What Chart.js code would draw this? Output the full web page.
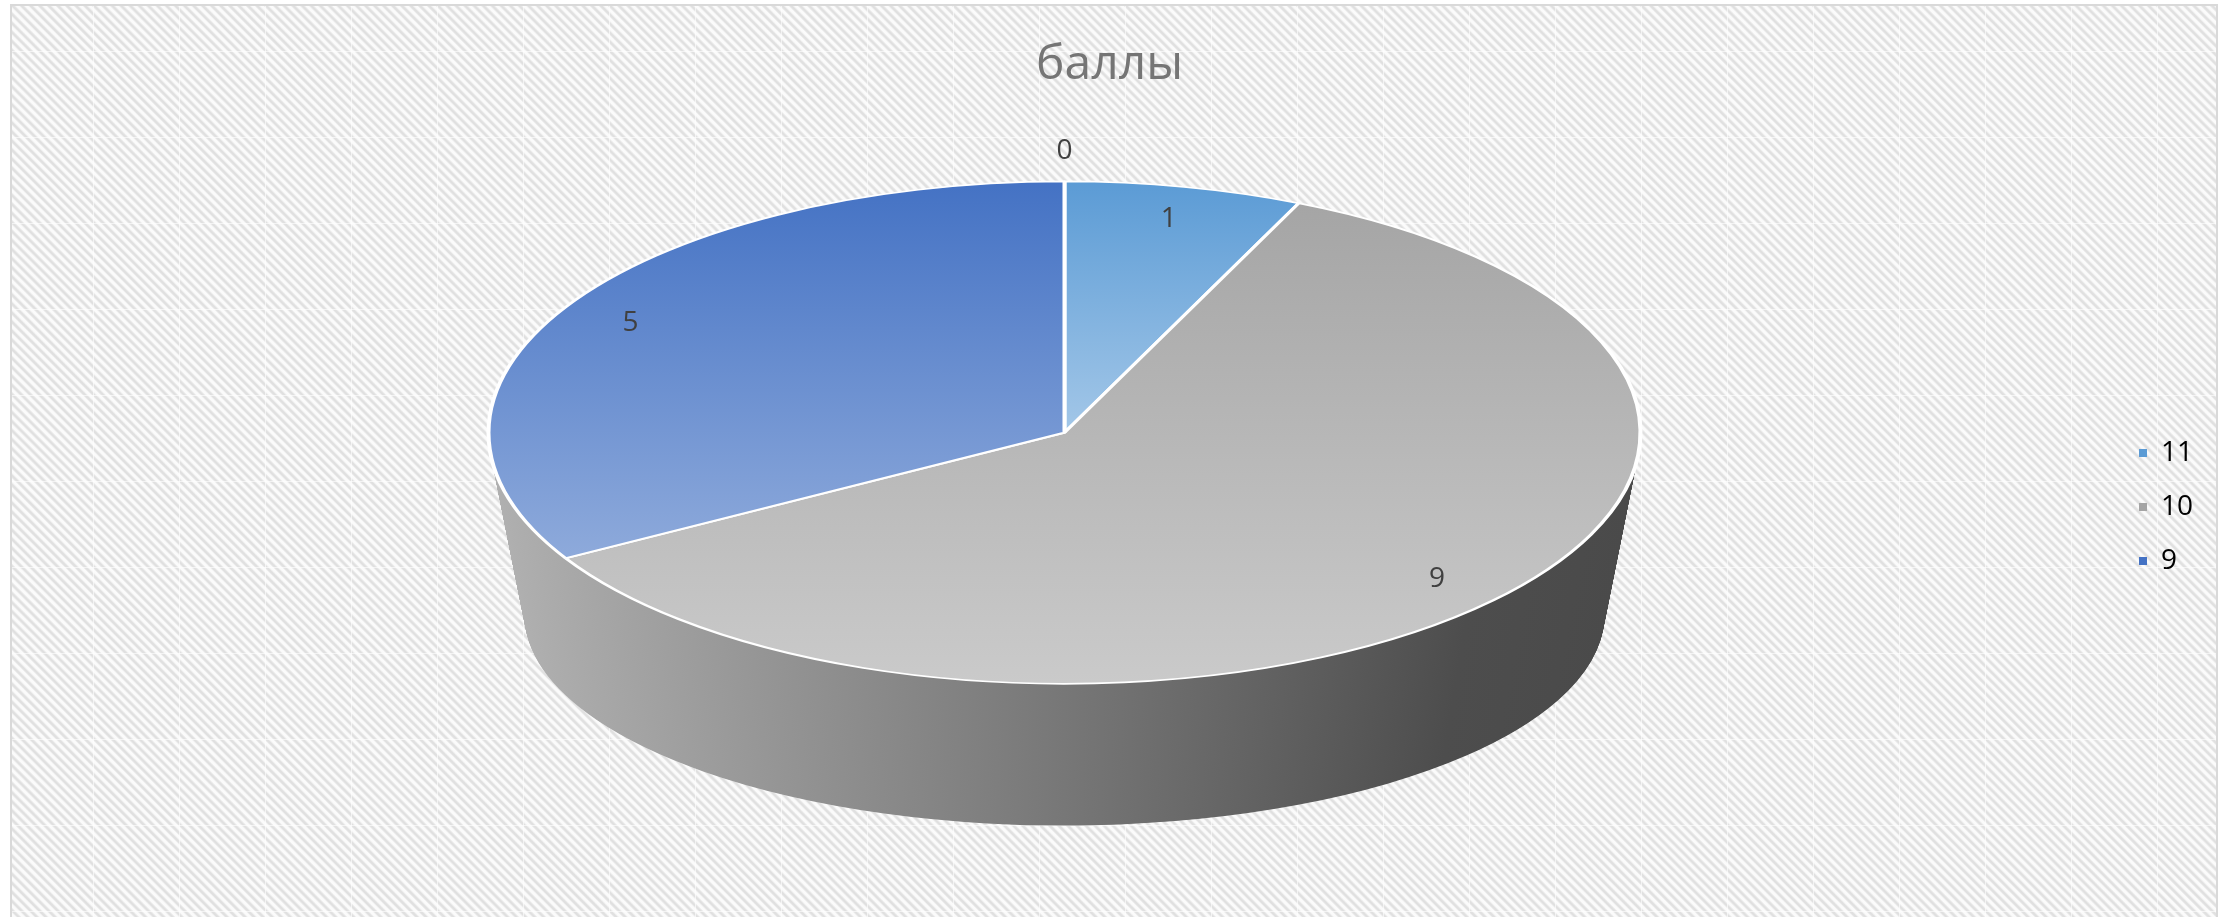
<!DOCTYPE html>
<html>
<head>
<meta charset="utf-8">
<script src="https://cdn.jsdelivr.net/npm/chart.js@4/dist/chart.umd.min.js"></script>
<style>
  html, body { margin: 0; padding: 0; background: #ffffff; overflow: hidden; }
  #frame {
    position: absolute; left: 10px; top: 4px; width: 2204px; height: 1100px;
    border: 2px solid #d9d9d9;
    background-color: #f0f0f0;
    background-image:
      linear-gradient(to right, rgba(255,255,255,0.6) 1px, transparent 1px),
      linear-gradient(to bottom, rgba(255,255,255,0.6) 1px, transparent 1px),
      repeating-linear-gradient(45deg, #fbfbfb 0px, #fbfbfb 1.8px, #e0e0e0 3.4px, #e0e0e0 4.6px, #fbfbfb 6.4px);
    background-size: 86px 86px, 86px 86px, auto;
    background-position: 81px 0, 0 45px, 0 0;
  }
  #wrap { position: absolute; left: 0; top: 0; width: 2234px; height: 917px; }
</style>
</head>
<body>
<div id="frame"></div>
<div id="wrap"><canvas id="c" width="2234" height="917"></canvas></div>
<script>
// ---- data ----
const categories = ['11', '10', '9', ''];
const values = [1, 9, 5, 0];
const chartTitle = 'баллы';

// ---- styles ----
const topColorsStart = ['#5b9bd5', '#a5a5a5', '#4472c4', '#5b9bd5'];
const topColorsEnd   = ['#a3c7e8', '#cacaca', '#8eaadb', '#a3c7e8'];
const legendColors   = ['#5b9bd5', '#a5a5a5', '#4472c4', '#5b9bd5'];
const wallColors     = ['#4f8ac4', null, null, '#4f8ac4'];
const TILT = 0.436;        // vertical squash of the pie plane
const DEPTH = 182;         // extrusion depth (px)
const SHRINK_X = 0.0625;   // perspective shrink of the base
const SHRINK_Y = 0.16;
const PIE_RADIUS = 576;

const FONT = "'Open Sans', 'Noto Sans', sans-serif";

function sliceYRange(arc) {
  let ymin = arc.y, ymax = arc.y;
  const n = 60;
  for (let j = 0; j <= n; j++) {
    const a = arc.startAngle + (arc.endAngle - arc.startAngle) * j / n;
    const y = arc.y + Math.sin(a) * arc.outerRadius;
    ymin = Math.min(ymin, y); ymax = Math.max(ymax, y);
  }
  return [ymin, ymax];
}

const pie3d = {
  id: 'pie3d',
  beforeDatasetsDraw(chart) {
    const meta = chart.getDatasetMeta(0);
    const arcs = meta.data;
    if (!arcs.length) return;
    const ctx = chart.ctx;
    const T = chart.chartArea.top;
    const cx = arcs[0].x, cy = arcs[0].y, R = arcs[0].outerRadius;
    const e0 = T + TILT * (cy - T);

    const wallGrad = ctx.createLinearGradient(cx - R, 0, cx + R, 0);
    wallGrad.addColorStop(0, '#b0b0b0');
    wallGrad.addColorStop(0.5, '#777777');
    wallGrad.addColorStop(0.85, '#4d4d4d');
    wallGrad.addColorStop(1, '#4a4a4a');

    const steps = 220;
    for (let s = steps; s >= 1; s--) {
      const t = s / steps;
      const rx = R * (1 - SHRINK_X * t);
      const ry = R * TILT * (1 - SHRINK_Y * t);
      const ey = e0 + DEPTH * t;
      ctx.save();
      ctx.translate(cx, ey);
      ctx.scale(rx / R, ry / R);
      ctx.translate(-cx, -cy);
      arcs.forEach((arc, i) => {
        const o = arc.options;
        arc.options = Object.assign({}, o, {
          backgroundColor: wallColors[i] || wallGrad,
          borderWidth: 0
        });
        arc.draw(ctx);
        arc.options = o;
      });
      ctx.restore();
    }

    arcs.forEach((arc, i) => {
      const [y0, y1] = sliceYRange(arc);
      const g = ctx.createLinearGradient(0, y0, 0, Math.max(y1, y0 + 1));
      g.addColorStop(0, topColorsStart[i]);
      g.addColorStop(1, topColorsEnd[i]);
      arc.options = Object.assign({}, arc.options, { backgroundColor: g });
    });

    ctx.save();
    ctx.translate(0, T);
    ctx.scale(1, TILT);
    ctx.translate(0, -T);
  },
  afterDatasetsDraw(chart) {
    const ctx = chart.ctx;
    ctx.restore();
    const meta = chart.getDatasetMeta(0);
    const T = chart.chartArea.top;
    ctx.save();
    ctx.font = '28px ' + FONT;
    ctx.fillStyle = '#404040';
    ctx.textAlign = 'center';
    ctx.textBaseline = 'middle';
    meta.data.forEach((arc, i) => {
      const v = values[i];
      const mid = (arc.startAngle + arc.endAngle) / 2;
      const rf = v === 0 ? 1.12 : 0.87;
      const px = arc.x + Math.cos(mid) * arc.outerRadius * rf;
      const py = arc.y + Math.sin(mid) * arc.outerRadius * rf;
      const sy = T + TILT * (py - T);
      ctx.fillText(String(v), px, sy);
    });
    ctx.restore();
  }
};

new Chart(document.getElementById('c'), {
  type: 'pie',
  data: {
    labels: categories,
    datasets: [{
      data: values,
      backgroundColor: topColorsStart,
      borderColor: '#ffffff',
      borderWidth: 4,
      clip: false
    }]
  },
  options: {
    responsive: false,
    animation: false,
    radius: PIE_RADIUS,
    rotation: 0,
    events: [],
    layout: { padding: { left: 16, right: 31, top: 0, bottom: -97 } },
    plugins: {
      tooltip: { enabled: false },
      title: {
        display: true,
        text: chartTitle,
        color: '#757575',
        font: { family: FONT, size: 48, weight: 'normal', lineHeight: 1.2 },
        padding: { top: 37, bottom: 203 }
      },
      legend: {
        position: 'right',
        align: 'center',
        labels: {
          color: '#595959',
          font: { family: FONT, size: 28 },
          usePointStyle: true,
          boxWidth: 8,
          boxHeight: 8,
          padding: 26,
          generateLabels: () => categories
            .map((c, i) => ({
              text: c, fillStyle: legendColors[i], strokeStyle: legendColors[i],
              lineWidth: 0, pointStyle: 'rect', hidden: false, index: i, datasetIndex: 0
            }))
            .filter(it => it.text !== '')
        }
      }
    }
  },
  plugins: [pie3d]
});
</script>
</body>
</html>
